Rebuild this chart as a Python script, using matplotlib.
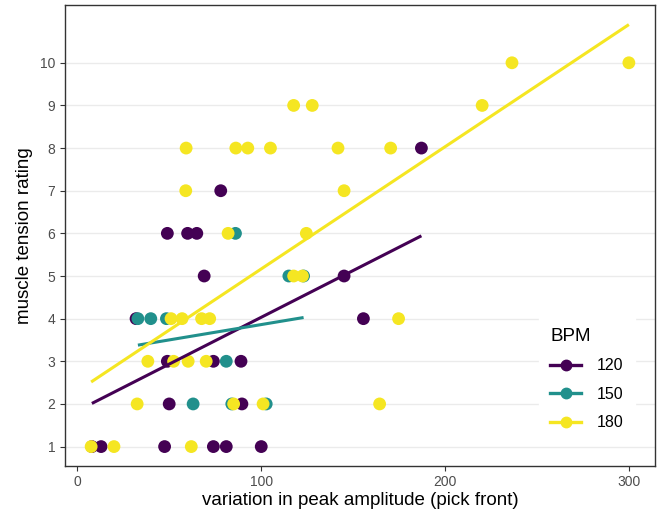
import matplotlib.pyplot as plt
import numpy as np
from matplotlib.lines import Line2D

plt.rcParams["font.family"] = ["Liberation Sans", "DejaVu Sans"]

# variation in peak amplitude (x) and muscle tension rating (y), per BPM group
x_120 = [8, 13, 47.5, 74, 81, 100, 50, 89.5, 49, 74, 89, 32, 155.5, 69, 145, 49, 60, 65, 78, 187]
y_120 = [1, 1, 1, 1, 1, 1, 2, 2, 3, 3, 3, 4, 4, 5, 5, 6, 6, 6, 7, 8]

x_150 = [33, 40, 48.5, 63, 84, 102.7, 81, 86, 115, 123]
y_150 = [4, 4, 4, 2, 2, 2, 3, 6, 5, 5]

x_180 = [7.6, 20, 62, 32.6, 85, 101, 164.3, 38.4, 52.4, 60.3, 70.1, 51, 57, 67.6, 72, 174.6,
         117.6, 122.4, 82, 124.5, 59, 145, 59.2, 86.2, 92.7, 105, 141.7, 170.3,
         117.6, 127.7, 220, 236.2, 299.7]
y_180 = [1, 1, 1, 2, 2, 2, 2, 3, 3, 3, 3, 4, 4, 4, 4, 4,
         5, 5, 6, 6, 7, 7, 8, 8, 8, 8, 8, 8,
         9, 9, 9, 10, 10]

groups = ["120", "150", "180"]
colors = ["#440154", "#21908C", "#F5E622"]
xs = [x_120, x_150, x_180]
ys = [y_120, y_150, y_180]

fig = plt.figure(figsize=(6.72, 5.21), dpi=100)
ax = fig.add_axes([0.097, 0.106, 0.878, 0.884])

for gx, gy, c in zip(xs, ys, colors):
    gx = np.array(gx, dtype=float)
    gy = np.array(gy, dtype=float)
    ax.scatter(gx, gy, s=85, color=c, edgecolors="none", zorder=3)

# linear fits drawn on top of points
for gx, gy, c in zip(xs, ys, colors):
    gx = np.array(gx, dtype=float)
    gy = np.array(gy, dtype=float)
    k, b = np.polyfit(gx, gy, 1)
    xx = np.array([gx.min(), gx.max()])
    ax.plot(xx, k * xx + b, color=c, lw=2.2, zorder=4, solid_capstyle="butt")

ax.set_xlim(-6.5, 314)
ax.set_ylim(0.55, 11.35)
ax.set_xticks([0, 100, 200, 300])
ax.set_yticks(range(1, 11))
ax.grid(axis="y", color="#EBEBEB", lw=1.0, zorder=0)
ax.set_axisbelow(True)
for sp in ax.spines.values():
    sp.set_color("#333333")
    sp.set_linewidth(1.0)
ax.tick_params(colors="#333333", labelcolor="#4D4D4D", labelsize=10, length=3.5, width=0.8)
ax.set_xlabel("variation in peak amplitude (pick front)", fontsize=13.5, labelpad=2)
ax.set_ylabel("muscle tension rating", fontsize=13.5, labelpad=5)

handles = [Line2D([], [], color=c, lw=2.4, marker="o", markersize=7.5, label=g)
           for g, c in zip(groups, colors)]
leg = ax.legend(handles=handles, title="BPM", loc="lower left",
                bbox_to_anchor=(0.79, 0.035), frameon=True, fancybox=False,
                edgecolor="white", framealpha=1, fontsize=11.5, title_fontsize=13.5,
                handlelength=1.9, labelspacing=0.85, borderpad=0.7, handletextpad=1.0)
leg._legend_box.align = "left"

fig.savefig("out.png", dpi=100)
